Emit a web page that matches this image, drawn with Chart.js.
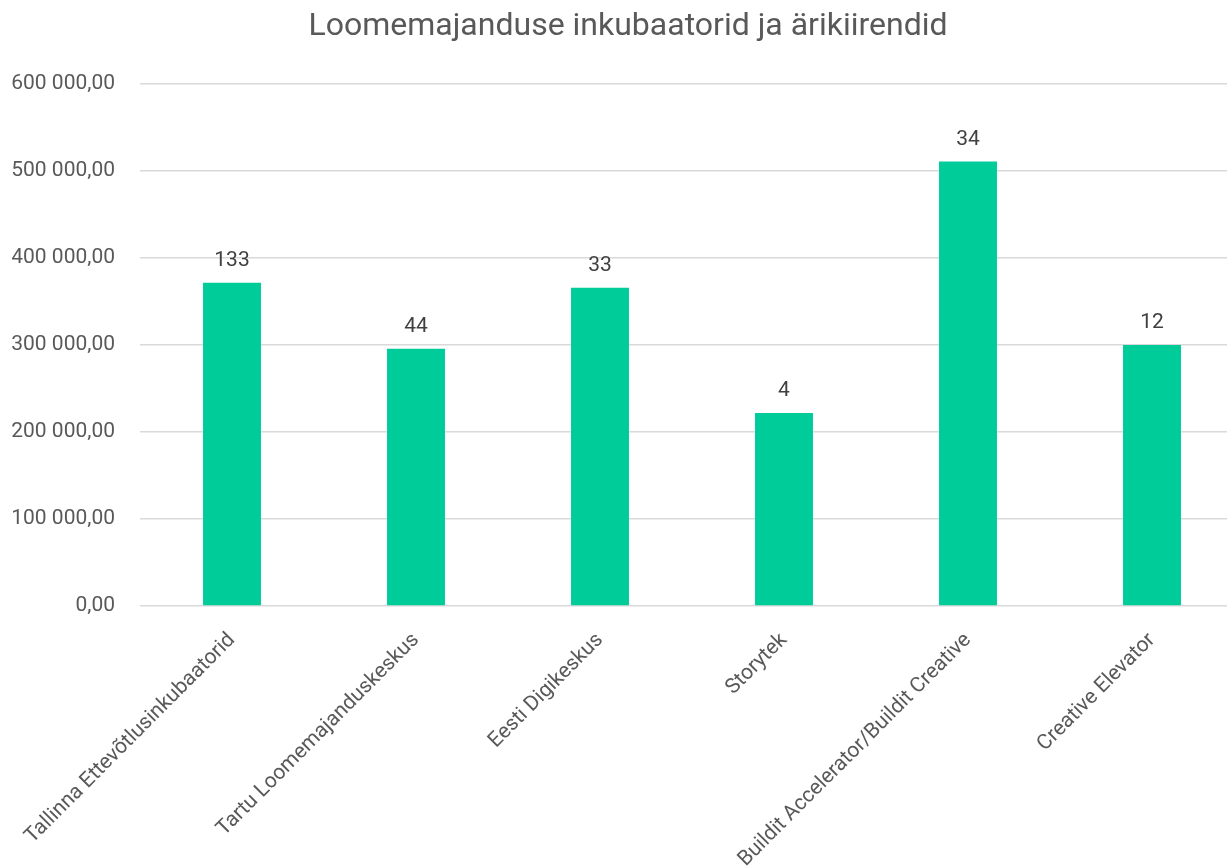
<!DOCTYPE html>
<html>
<head>
<meta charset="utf-8">
<script src="https://cdn.jsdelivr.net/npm/chart.js@4"></script>
<style>
body { margin: 0; overflow: hidden; background: #fff; }
#wrap { width: 1266px; height: 868px; }
</style>
</head>
<body>
<div id="wrap"><canvas id="chart"></canvas></div>
<script>
const chartTitle = 'Loomemajanduse inkubaatorid ja ärikiirendid';
const categories = [
    'Tallinna Ettevõtlusinkubaatorid',
    'Tartu Loomemajanduskeskus',
    'Eesti Digikeskus',
    'Storytek',
    'Buildit Accelerator/Buildit Creative',
    'Creative Elevator'
];
const amounts = [371500, 295700, 365800, 221900, 510800, 300000];
const counts = [133, 44, 33, 4, 34, 12];
const yMax = 600000;
const yStep = 100000;

function fmtAmount(v) {
    let s = Math.round(v).toString().replace(/\B(?=(\d{3})+(?!\d))/g, ' ');
    return s + ',00';
}

// numbers over the bars
const countLabels = {
    id: 'countLabels',
    afterDatasetsDraw(chart) {
        const ctx = chart.ctx;
        const meta = chart.getDatasetMeta(0);
        ctx.save();
        ctx.font = '21px Roboto';
        ctx.fillStyle = '#404040';
        ctx.textAlign = 'center';
        ctx.textBaseline = 'alphabetic';
        meta.data.forEach((bar, i) => {
            ctx.fillText(String(counts[i]), bar.x, bar.y - 17);
        });
        ctx.restore();
    }
};

new Chart(document.getElementById('chart'), {
    type: 'bar',
    data: {
        labels: categories,
        datasets: [{
            data: amounts,
            backgroundColor: '#00CC99',
            barPercentage: 0.315,
            categoryPercentage: 1
        }]
    },
    options: {
        responsive: true,
        maintainAspectRatio: false,
        animation: false,
        layout: { padding: { left: 12, right: 22, top: 0, bottom: 0 } },
        plugins: {
            legend: { display: false },
            tooltip: { enabled: false },
            title: {
                display: true,
                text: chartTitle,
                color: '#595959',
                font: { family: 'Roboto', size: 32, weight: 'normal' },
                padding: { top: 8, bottom: 37.6 }
            }
        },
        scales: {
            x: {
                grid: { display: false },
                border: { display: false },
                ticks: {
                    color: '#595959',
                    font: { family: 'Roboto', size: 21 },
                    minRotation: 45,
                    maxRotation: 45,
                    autoSkip: false,
                    padding: 14
                },
                afterFit(s) { s.height = 262; }
            },
            y: {
                min: 0,
                max: yMax,
                grid: { color: '#d9d9d9', lineWidth: 1.5, drawTicks: false },
                border: { display: false },
                ticks: {
                    stepSize: yStep,
                    color: '#595959',
                    font: { family: 'Roboto', size: 21 },
                    padding: 25,
                    callback: v => fmtAmount(v)
                },
                afterFit(s) { s.width = 128; }
            }
        }
    },
    plugins: [countLabels]
});
</script>
</body>
</html>
